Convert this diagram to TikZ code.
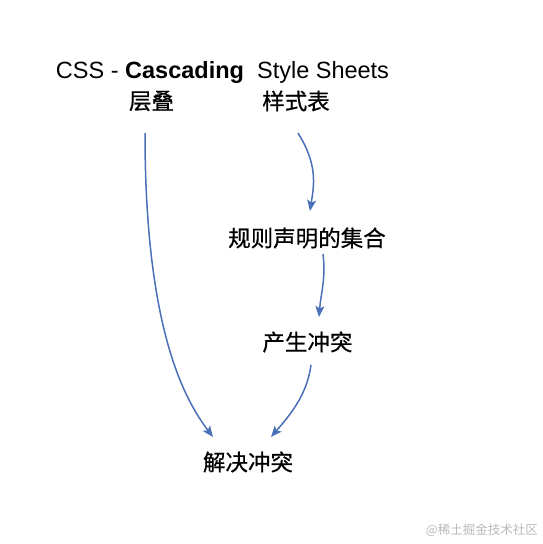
\documentclass[tikz,border=0pt]{standalone}
\usepackage{fontspec}
\setmainfont{Liberation Sans}
\newfontfamily\cjk[FakeBold=0.6]{Noto Sans CJK SC}
\newfontfamily\cjkmark{Noto Sans CJK SC}
\usetikzlibrary{arrows.meta}
\definecolor{arrowblue}{RGB}{74,112,183}
\definecolor{markgray}{RGB}{185,185,185}
\tikzset{
 word/.style={inner sep=0pt,font=\cjk\fontsize{22.5}{24}\selectfont},
 flow/.style={arrowblue,line width=1.5pt,->}
}
\begin{document}
\begin{tikzpicture}[x=1pt,y=-1pt,>={Stealth[length=11pt,width=9pt,inset=2.5pt]}]
 \useasboundingbox (0,0) rectangle (543,544);
 \node[inner sep=0pt,font=\fontsize{23.5}{25}\selectfont] (title) at (222.5,72)
 {CSS - \textbf{Cascading}\ \ Style Sheets};
 \node[word] (ceng) at (151.5,101) {层叠};
 \node[word] (yangshi) at (296,101) {样式表};
 \node[word] (guize) at (307,238) {规则声明的集合};
 \node[word] (chansheng) at (307.5,342) {产生冲突};
 \node[word] (jiejue) at (248,462) {解决冲突};
 \draw[flow] ([shift={(-6.5,32)}]ceng.center) .. controls +(0,197) and +(-28,-37) .. ([shift={(-35,-25)}]jiejue.center);
 \draw[flow] ([shift={(2,32)}]yangshi.center) .. controls +(20,32) and +(4,-26) .. ([shift={(3,-27)}]guize.center);
 \draw[flow] ([shift={(16,16)}]guize.center) .. controls +(3,25) and +(2,-25) .. ([shift={(11.5,-25)}]chansheng.center);
 \draw[flow] ([shift={(3.5,23)}]chansheng.center) .. controls +(-4,30) and +(19,-22) .. ([shift={(23,-25)}]jiejue.center);
 \node[inner sep=0pt,text=markgray,font=\cjkmark\fontsize{12.5}{14}\selectfont,anchor=east] (mark) at (538,530) {@稀土掘金技术社区};
\end{tikzpicture}
\end{document}
